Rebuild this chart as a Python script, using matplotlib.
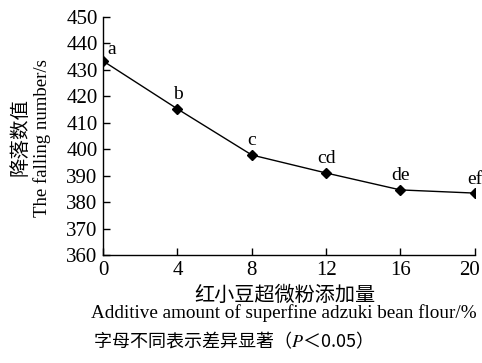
import matplotlib

matplotlib.use("Agg")
import matplotlib.pyplot as plt
from matplotlib.transforms import ScaledTranslation

# Falling number vs. adzuki bean flour addition
additive = [0, 4, 8, 12, 16, 20]
falling_number = [433.3, 415.2, 397.8, 391.0, 384.6, 383.4]
sig_letters = ["a", "b", "c", "cd", "de", "ef"]
y_ticks = [360, 370, 380, 390, 400, 410, 420, 430, 440, 450]
x_ticks = [0, 4, 8, 12, 16, 20]

SERIF = ["Liberation Serif", "DejaVu Serif"]
CJK = ["Noto Sans CJK SC", "DejaVu Sans"]
plt.rcParams["mathtext.fontset"] = "stix"

fig = plt.figure(figsize=(4.82, 3.63), dpi=100)
ax = fig.add_axes([0.214, 0.2975, 0.771, 0.656])

ax.plot(additive, falling_number, color="black", lw=1.0,
        marker="D", markersize=5.5, markerfacecolor="black")
for x, y, s in zip(additive, falling_number, sig_letters):
    if x == 0:
        ax.annotate(s, (x, y), xytext=(3, 2), textcoords="offset points",
                    ha="left", va="bottom", fontsize=14, family=SERIF)
    else:
        ax.annotate(s, (x, y), xytext=(0, 4), textcoords="offset points",
                    ha="center", va="bottom", fontsize=14, family=SERIF)

ax.set_xlim(0, 20)
ax.set_ylim(360, 450)
ax.set_xticks(x_ticks)
ax.set_yticks(y_ticks)
ax.spines["top"].set_visible(False)
ax.spines["right"].set_visible(False)
for sp in ("left", "bottom"):
    ax.spines[sp].set_linewidth(1.0)
ax.tick_params(direction="in", length=5, width=1.0, labelsize=15, pad=4)
for lab in ax.get_xticklabels() + ax.get_yticklabels():
    lab.set_family(SERIF)
# nudge the last x label so it stays inside the figure
last = ax.get_xticklabels()[-1]
last.set_transform(last.get_transform()
                   + ScaledTranslation(-4 / 72, 0, fig.dpi_scale_trans))

# two-line axis titles, Chinese over English
fig.text(0.042, 0.623, "降落数值", rotation=90, ha="center", va="center",
         fontsize=14, family=CJK)
fig.text(0.087, 0.62, "The falling number/s", rotation=90, ha="center",
         va="center", fontsize=13.5, family=SERIF)
fig.text(0.592, 0.187, "红小豆超微粉添加量", ha="center", va="center",
         fontsize=14.5, family=CJK)
fig.text(0.588, 0.138, "Additive amount of superfine adzuki bean flour/%",
         ha="center", va="center", fontsize=13.8, family=SERIF)
fig.text(0.193, 0.063, "字母不同表示差异显著（$P$＜0.05）", ha="left",
         va="center", fontsize=13, family=CJK)

fig.savefig("out.png", dpi=100)
